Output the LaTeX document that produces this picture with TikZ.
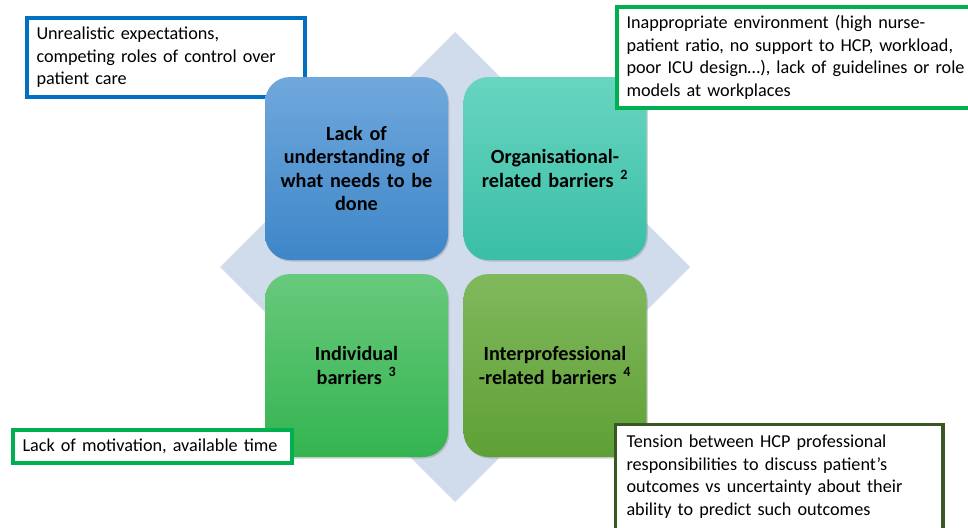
\documentclass[tikz,border=0pt]{standalone}
\usepackage{fontspec}
\setmainfont{Carlito}
\usetikzlibrary{shadows}
\definecolor{diamondcol}{RGB}{208,219,236}
\definecolor{blueT}{RGB}{112,168,220}
\definecolor{blueB}{RGB}{62,134,200}
\definecolor{tealT}{RGB}{104,213,192}
\definecolor{tealB}{RGB}{58,190,166}
\definecolor{greenT}{RGB}{104,201,124}
\definecolor{greenB}{RGB}{52,180,80}
\definecolor{oliveT}{RGB}{128,185,92}
\definecolor{oliveB}{RGB}{95,160,54}
\definecolor{annblue}{RGB}{0,112,192}
\definecolor{anngreen}{RGB}{0,176,80}
\definecolor{anndark}{RGB}{56,87,35}
\begin{document}
\begin{tikzpicture}[x=1pt,y=-1pt,
  barrier/.style={rounded corners=25pt, minimum width=183pt, minimum height=183pt,
    inner sep=0pt, text width=176pt, align=center,
    font=\fontsize{20.2}{23.3}\selectfont\bfseries,
    drop shadow={opacity=0.35, shadow xshift=1.3pt, shadow yshift=-1.5pt}},
  annot/.style={draw, line width=3.5pt, fill=white, align=left, inner xsep=9.5pt,
    inner ysep=0pt, font=\fontsize{18.2}{22.6}\selectfont}]
\useasboundingbox (0,0) rectangle (968,527);
\clip (0,0) rectangle (968,527);
% background diamond
\fill[diamondcol] (455,32) -- (690,267) -- (455,502) -- (220,267) -- cycle;
% annotation top-left (under the blue box)
\node[annot, draw=annblue, minimum width=278pt, minimum height=79pt, text width=259pt]
  (a1) at (166,57.5) {Unrealistic expectations,\\competing roles of control over\\patient care};
% barrier boxes
\node[barrier, top color=blueT, bottom color=blueB] (b1) at (356.5,168.5)
  {Lack of\\understanding of\\what needs to be\\done};
\node[barrier, top color=tealT, bottom color=tealB] (b2) at (555,168.5)
  {Organisational-\\related barriers \textsuperscript{2}};
\node[barrier, top color=greenT, bottom color=greenB] (b3) at (356.5,365.5)
  {Individual\\barriers \textsuperscript{3}};
\node[barrier, top color=oliveT, bottom color=oliveB] (b4) at (555,365.5)
  {Interprofessional\\-related barriers \textsuperscript{4}};
% annotations on top
\node[annot, draw=anngreen, minimum width=360pt, minimum height=101pt, text width=341pt]
  (a2) at (797,57.5) {Inappropriate environment (high nurse-\\patient ratio, no support to HCP, workload,\\poor ICU design…), lack of guidelines or role\\models at workplaces};
\node[annot, draw=anngreen, minimum width=279pt, minimum height=33pt, text width=260pt]
  (a3) at (152.5,446.5) {Lack of motivation, available time};
\node[annot, draw=none, minimum width=324pt, minimum height=101pt, text width=305pt]
  (a4) at (779,476.5) {Tension between HCP professional\\responsibilities to discuss patient’s\\outcomes vs uncertainty about their\\ability to predict such outcomes};
\draw[line width=3.5pt, anndark] ([yshift=-20pt]a4.south west) |- (a4.north east) -- ([yshift=-20pt]a4.south east);
\end{tikzpicture}
\end{document}
